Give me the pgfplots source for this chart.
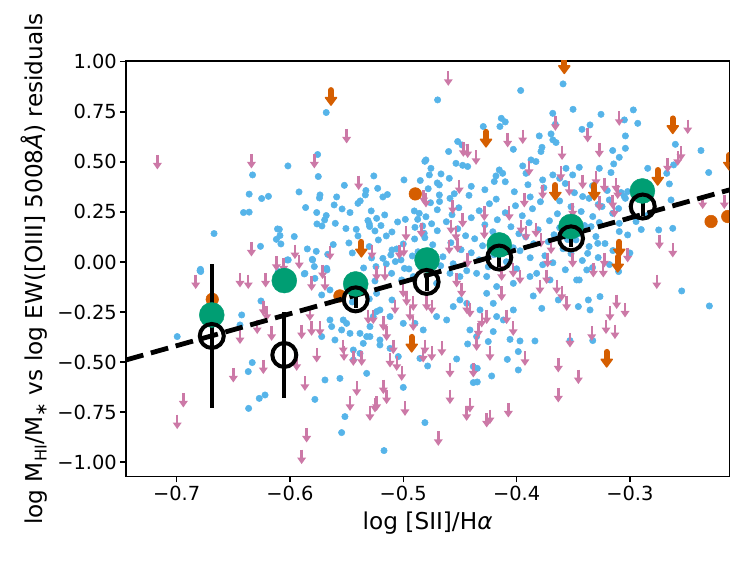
\documentclass[border=0pt]{standalone}
\usepackage{fontspec}
\setmainfont{DejaVu Sans}
\usepackage{pgfplots}
\pgfplotsset{compat=1.18}
\definecolor{cbblue}{HTML}{56B4E9}
\definecolor{cbpink}{HTML}{CC79A7}
\definecolor{cborange}{HTML}{D55E00}
\definecolor{cbgreen}{HTML}{009E73}
\pgfdeclareplotmark{parrow}{%
  \pgfsetlinewidth{2.4pt}\pgfsetbuttcap
  \pgfpathmoveto{\pgfqpoint{0pt}{7pt}}\pgfpathlineto{\pgfqpoint{0pt}{-2pt}}\pgfusepathqstroke
  \pgfpathmoveto{\pgfqpoint{-4.5pt}{-1pt}}\pgfpathlineto{\pgfqpoint{4.5pt}{-1pt}}\pgfpathlineto{\pgfqpoint{0pt}{-7.5pt}}\pgfpathclose\pgfusepathqfill
}
\pgfdeclareplotmark{oarrow}{%
  \pgfsetlinewidth{6pt}\pgfsetroundcap
  \pgfpathmoveto{\pgfqpoint{0pt}{6.5pt}}\pgfpathlineto{\pgfqpoint{0pt}{-2pt}}\pgfusepathqstroke
  \pgfsetlinewidth{1.5pt}\pgfsetroundjoin
  \pgfpathmoveto{\pgfqpoint{-5.5pt}{-1pt}}\pgfpathlineto{\pgfqpoint{5.5pt}{-1pt}}\pgfpathlineto{\pgfqpoint{0pt}{-8.5pt}}\pgfpathclose\pgfusepathqfillstroke
}
\begin{document}
\begin{tikzpicture}
\useasboundingbox (-126pt,-83.3pt) rectangle (621pt,476.7pt);
\begin{axis}[
  at={(0pt,0pt)}, anchor=south west,
  scale only axis, width=603.3pt, height=415.7pt,
  xmin=-0.7447, xmax=-0.2123, ymin=-1.0735, ymax=1.0045,
  clip marker paths=true,
  axis line style={black, line width=1.2pt},
  tick style={black, line width=1.2pt},
  major tick length=5.7pt, tick align=outside,
  xtick pos=left, ytick pos=left,
  xtick={-0.7,-0.6,-0.5,-0.4,-0.3},
  xticklabels={−0.7,−0.6,−0.5,−0.4,−0.3},
  ytick={-1,-0.75,-0.5,-0.25,0,0.25,0.5,0.75,1},
  yticklabels={−1.00,−0.75,−0.50,−0.25,0.00,0.25,0.50,0.75,1.00},
  tick label style={font=\fontsize{19.4}{23}\selectfont},
  xlabel={log [SII]/H\textit{α}},
  ylabel={log M\textsubscript{HI}/M\textsubscript{∗} vs log EW([OIII] 5008\textit{Å}) residuals},
  label style={font=\fontsize{23.2}{27}\selectfont},
  xlabel style={at={(axis description cs:0.5,-0.127)}, anchor=base},
  ylabel style={at={(axis description cs:-0.1376,0.5)}, rotate=0, anchor=base},
]
% blue detections
\addplot[only marks, mark=*, mark size=3.2pt, color=cbblue, mark options={line width=0.5pt}] table {
x y
-0.633 0.435
-0.636 0.339
-0.625 0.317
-0.619 0.328
-0.641 0.247
-0.636 0.249
-0.667 0.142
-0.626 0.078
-0.611 0.165
-0.612 0.113
-0.679 -0.037
-0.568 0.747
-0.5756 0.537
-0.6018 0.48
-0.575 0.427
-0.526 0.43
-0.552 0.383
-0.592 0.35
-0.5735 0.335
-0.574 0.32
-0.5588 0.325
-0.533 0.357
-0.5335 0.335
-0.5226 0.368
-0.518 0.325
-0.514 0.337
-0.4994 0.41
-0.485 0.407
-0.481 0.503
-0.5862 0.272
-0.561 0.285
-0.554 0.265
-0.547 0.247
-0.540 0.293
-0.538 0.305
-0.5764 0.247
-0.568 0.232
-0.5694 0.21
-0.5762 0.19
-0.5718 0.18
-0.56 0.193
-0.5283 0.255
-0.5235 0.218
-0.5164 0.235
-0.5312 0.207
-0.5297 0.177
-0.525 0.155
-0.5197 0.182
-0.515 0.13
-0.5506 0.167
-0.5415 0.163
-0.4982 0.213
-0.4903 0.255
-0.4859 0.243
-0.4873 0.213
-0.4897 0.173
-0.4829 0.18
-0.4815 0.143
-0.6094 0.163
-0.6088 0.132
-0.608 0.09
-0.5962 0.127
-0.5847 0.065
-0.5768 0.053
-0.5618 0.087
-0.5667 0.038
-0.58 0.01
-0.5676 -0.032
-0.6015 0.01
-0.53 0.077
-0.518 0.018
-0.511 0.035
-0.5058 0.065
-0.507 0.002
-0.502 0.01
-0.499 -0.032
-0.5241 -0.023
-0.359 0.89
-0.3964 0.857
-0.4697 0.81
-0.3502 0.763
-0.3681 0.743
-0.3658 0.688
-0.4135 0.718
-0.41 0.70
-0.4147 0.677
-0.4294 0.677
-0.4029 0.563
-0.452 0.602
-0.4482 0.585
-0.46 0.552
-0.38 0.63
-0.3776 0.573
-0.3785 0.552
-0.3696 0.64
-0.368 0.61
-0.3652 0.597
-0.4535 0.493
-0.4476 0.483
-0.4432 0.477
-0.48 0.51
-0.4756 0.468
-0.477 0.435
-0.4667 0.44
-0.4682 0.385
-0.4594 0.418
-0.4588 0.318
-0.4682 0.335
-0.3873 0.51
-0.3829 0.502
-0.3946 0.48
-0.3917 0.443
-0.4153 0.46
-0.4182 0.43
-0.4197 0.402
-0.4123 0.443
-0.377 0.41
-0.368 0.435
-0.362 0.418
-0.3564 0.468
-0.3505 0.435
-0.3255 0.738
-0.297 0.76
-0.2931 0.693
-0.3049 0.71
-0.304 0.63
-0.304 0.568
-0.3423 0.663
-0.3352 0.685
-0.2599 0.588
-0.2373 0.557
-0.2614 0.485
-0.2843 0.468
-0.2305 0.447
-0.3152 0.557
-0.3094 0.523
-0.3143 0.49
-0.3167 0.447
-0.327 0.468
-0.3447 0.473
-0.2675 0.443
-0.2652 0.39
-0.2637 0.31
-0.3417 0.327
-0.3246 0.277
-0.3182 0.31
-0.3078 0.347
-0.304 0.318
-0.302 0.352
-0.3152 0.243
-0.3094 0.193
-0.302 0.135
-0.2946 0.202
-0.3094 0.152
-0.3328 0.227
-0.3343 0.177
-0.3284 0.093
-0.3373 0.043
-0.2746 0.16
-0.2622 0.168
-0.3447 0.143
-0.3476 0.11
-0.6788 -0.048
-0.6995 -0.373
-0.6426 -0.265
-0.6256 -0.195
-0.6441 -0.315
-0.6333 -0.503
-0.6368 -0.548
-0.6271 -0.682
-0.622 -0.665
-0.6365 -0.732
-0.6044 -0.107
-0.6103 -0.048
-0.5868 -0.057
-0.578 -0.082
-0.572 -0.165
-0.5647 -0.14
-0.5647 -0.29
-0.572 -0.373
-0.5603 -0.39
-0.5544 -0.34
-0.553 -0.29
-0.5691 -0.59
-0.5559 -0.582
-0.5323 -0.557
-0.5441 -0.49
-0.5382 -0.457
-0.5441 -0.44
-0.578 -0.687
-0.5515 -0.773
-0.5544 -0.853
-0.5353 -0.407
-0.5323 -0.373
-0.5382 -0.357
-0.5294 -0.323
-0.5265 -0.273
-0.5235 -0.248
-0.5632 -0.323
-0.547 -0.357
-0.55 -0.307
-0.2543 -0.145
-0.2299 -0.22
-0.3264 -0.173
-0.3367 -0.19
-0.3352 -0.24
-0.3455 -0.223
-0.3447 -0.09
-0.3632 -0.19
-0.3328 -0.393
-0.3529 -0.393
-0.3778 -0.232
-0.3853 -0.17
-0.3838 -0.395
-0.397 -0.395
-0.4058 -0.387
-0.3985 -0.448
-0.4082 -0.487
-0.3985 -0.54
-0.422 -0.57
-0.4347 -0.532
-0.4382 -0.603
-0.4529 -0.485
-0.4809 -0.803
-0.517 -0.943
-0.5 -0.627
-0.4382 -0.523
-0.4347 -0.6
-0.5206 -0.415
-0.5117 -0.432
-0.5044 -0.473
-0.4853 -0.482
-0.4785 -0.52
-0.4432 -0.41
-0.4412 -0.34
-0.4353 -0.373
-0.425 -0.398
-0.4206 -0.348
-0.4176 -0.273
-0.5103 -0.057
-0.5014 -0.09
-0.4912 -0.073
-0.4706 -0.107
-0.4588 -0.057
-0.45 -0.073
-0.4353 -0.057
-0.4264 -0.073
-0.4176 -0.123
-0.4029 -0.107
-0.3882 -0.073
-0.3823 -0.057
-0.3705 -0.09
-0.347 -0.09
-0.3381 -0.04
-0.5206 -0.24
-0.5117 -0.273
-0.5 -0.307
-0.4897 -0.307
-0.4824 -0.34
-0.4706 -0.273
-0.4617 -0.29
-0.4559 -0.223
-0.45 -0.19
-0.444 -0.207
-0.4323 -0.24
-0.4264 -0.157
-0.4206 -0.207
-0.4117 -0.29
-0.4029 -0.24
-0.5235 -0.157
-0.5294 -0.373
-0.5206 -0.39
-0.47 0.395
-0.44 0.378
-0.41 0.401
-0.39 0.386
-0.357 0.392
-0.333 0.381
-0.478 0.366
-0.455 0.341
-0.428 0.361
-0.402 0.351
-0.376 0.371
-0.349 0.346
-0.32 0.357
-0.468 0.302
-0.442 0.333
-0.418 0.314
-0.388 0.325
-0.362 0.305
-0.336 0.318
-0.305 0.328
-0.476 0.296
-0.451 0.271
-0.424 0.291
-0.401 0.281
-0.379 0.301
-0.352 0.276
-0.328 0.287
-0.31 0.267
-0.47 0.261
-0.457 0.236
-0.433 0.256
-0.41 0.246
-0.386 0.266
-0.364 0.241
-0.343 0.252
-0.285 0.232
-0.48 0.226
-0.462 0.201
-0.44 0.221
-0.417 0.211
-0.395 0.231
-0.371 0.206
-0.355 0.217
-0.327 0.197
-0.475 0.191
-0.452 0.166
-0.428 0.186
-0.405 0.176
-0.389 0.196
-0.362 0.171
-0.34 0.182
-0.29 0.162
-0.47 0.156
-0.445 0.131
-0.421 0.151
-0.398 0.141
-0.381 0.161
-0.367 0.136
-0.35 0.147
-0.33 0.127
-0.481 0.121
-0.458 0.096
-0.437 0.116
-0.414 0.106
-0.392 0.126
-0.372 0.101
-0.355 0.112
-0.322 0.092
-0.474 0.086
-0.449 0.061
-0.43 0.081
-0.403 0.071
-0.385 0.091
-0.359 0.066
-0.336 0.077
-0.315 0.057
-0.487 0.051
-0.465 0.026
-0.44 0.046
-0.42 0.036
-0.397 0.056
-0.375 0.031
-0.352 0.042
-0.328 0.022
-0.3 0.045
-0.478 0.016
-0.456 -0.009
-0.433 0.011
-0.409 0.001
-0.388 0.021
-0.368 -0.004
-0.342 0.007
-0.318 -0.013
-0.467 -0.019
-0.444 -0.044
-0.425 -0.024
-0.4 -0.034
-0.377 -0.014
-0.357 -0.039
-0.333 -0.028
-0.31 -0.048
-0.545 0.045
-0.528 0.02
-0.51 0.06
-0.492 0.03
-0.535 -0.03
-0.515 -0.01
-0.5 0.09
-0.522 0.11
-0.548 0.095
-0.495 -0.035
-0.54 0.13
-0.51 0.15
-0.49 0.115
-0.505 0.2
-0.53 0.19
-0.535 -0.12
-0.545 -0.2
-0.53 -0.185
-0.51 -0.19
-0.525 -0.095
-0.5803 0.013
-0.5785 -0.023
-0.5673 -0.04
-0.6024 0.01
-0.6794 -0.043
-0.5874 -0.06
};
% pink upper limits
\addplot[only marks, mark=parrow, color=cbpink] table {
x y
-0.717 0.50
-0.634 0.505
-0.634 0.065
-0.612 -0.007
-0.55 0.63
-0.5785 0.505
-0.5394 0.397
-0.482 0.327
-0.4976 0.143
-0.4841 0.16
-0.5956 0.052
-0.5918 0.002
-0.5647 0.047
-0.5276 0.052
-0.5035 0.052
-0.4996 0.063
-0.6056 -0.015
-0.4603 0.918
-0.3658 0.693
-0.4079 0.61
-0.3946 0.627
-0.447 0.563
-0.4432 0.557
-0.4358 0.523
-0.3599 0.547
-0.389 0.468
-0.361 0.443
-0.3535 0.368
-0.4506 0.377
-0.4285 0.243
-0.4065 0.243
-0.3932 0.31
-0.377 0.352
-0.4564 0.277
-0.4579 0.177
-0.4535 0.143
-0.4476 0.21
-0.4594 0.077
-0.452 0.085
-0.3961 0.177
-0.3917 0.143
-0.3829 0.16
-0.3785 0.11
-0.3696 0.077
-0.3726 0.01
-0.3505 0.01
-0.3505 0.26
-0.4432 0.01
-0.4285 0.152
-0.48 0.31
-0.3094 0.718
-0.3373 0.635
-0.249 0.677
-0.2549 0.543
-0.2578 0.518
-0.2667 0.485
-0.327 0.56
-0.3417 0.402
-0.3299 0.418
-0.3226 0.385
-0.3123 0.385
-0.3108 0.352
-0.327 0.293
-0.3152 0.302
-0.3138 0.26
-0.274 0.102
-0.2622 0.06
-0.2358 0.302
-0.2167 0.302
-0.302 0.035
-0.3226 0.01
-0.6832 -0.098
-0.6441 -0.09
-0.6368 -0.098
-0.6215 -0.09
-0.6235 -0.232
-0.6206 -0.257
-0.6162 -0.357
-0.6441 -0.373
-0.6289 -0.323
-0.6235 -0.523
-0.65 -0.565
-0.6941 -0.69
-0.6995 -0.798
-0.5809 -0.107
-0.5691 -0.107
-0.5712 -0.048
-0.5824 -0.257
-0.5897 -0.348
-0.5809 -0.332
-0.5735 -0.332
-0.5764 -0.465
-0.5941 -0.507
-0.5523 -0.457
-0.5868 -0.607
-0.5411 -0.632
-0.547 -0.707
-0.5294 -0.757
-0.5235 -0.707
-0.5853 -0.865
-0.5897 -0.973
-0.553 -0.423
-0.5441 -0.482
-0.5367 -0.482
-0.5309 -0.273
-0.2763 -0.098
-0.3117 -0.198
-0.3043 -0.24
-0.3176 -0.257
-0.3211 -0.323
-0.3132 -0.348
-0.3337 -0.357
-0.3529 -0.39
-0.3455 -0.573
-0.3632 -0.515
-0.3632 -0.665
-0.3926 -0.482
-0.4073 -0.74
-0.4235 -0.457
-0.4382 -0.54
-0.4412 -0.715
-0.4441 -0.757
-0.4235 -0.773
-0.4264 -0.79
-0.4588 -0.673
-0.4588 -0.54
-0.4691 -0.882
-0.4985 -0.732
-0.5147 -0.673
-0.5176 -0.623
-0.525 -0.715
-0.5014 -0.557
-0.5058 -0.507
-0.5117 -0.49
-0.5088 -0.423
-0.5147 -0.357
-0.4809 -0.423
-0.4749 -0.457
-0.466 -0.432
-0.5235 -0.057
-0.5162 -0.057
-0.5073 -0.223
-0.5 -0.14
-0.497 -0.182
-0.4941 -0.257
-0.4912 -0.207
-0.4912 -0.307
-0.4794 -0.207
-0.4749 -0.223
-0.4529 -0.09
-0.4485 -0.14
-0.444 -0.223
-0.4412 -0.24
-0.4264 -0.273
-0.4308 -0.29
-0.4338 -0.34
-0.4132 -0.057
-0.4132 -0.157
-0.4088 -0.273
-0.403 -0.332
-0.4353 -0.407
-0.4824 -0.465
-0.3646 -0.123
-0.3558 -0.207
-0.3602 -0.157
-0.3735 -0.073
-0.3794 -0.123
-0.397 -0.073
-0.403 -0.04
-0.3323 -0.04
-0.3235 -0.04
-0.5176 -0.307
-0.5265 -0.273
};
% orange upper limits
\addplot[only marks, mark=oarrow, color=cborange] table {
x y
-0.5638 0.8266
-0.3579 0.985
-0.427 0.618
-0.3658 0.352
-0.537 0.068
-0.2622 0.685
-0.2755 0.427
-0.3314 0.352
-0.2123 0.502
-0.3094 0.068
-0.3108 -0.007
-0.3205 -0.482
-0.4926 -0.407
};
% orange detections
\addplot[only marks, mark=*, mark size=6.3pt, color=cborange, mark options={line width=0.5pt}] table {
x y
-0.4894 0.34
-0.2284 0.202
-0.2137 0.227
-0.5559 -0.17
-0.6686 -0.187
};
% fit line
\addplot[black, line width=4.8pt, dash pattern=on 18pt off 7.8pt, mark=none] table {
x y
-0.7447 -0.49
-0.2123 0.36
};
% error bars
\addplot[draw=none, mark=none, error bars/.cd, y dir=both, y explicit, error mark=none,
  error bar style={draw=black, line width=4pt, solid}] table[x=x, y=y, y error=e] {
x y e
-0.669 -0.37 0.36
-0.605 -0.465 0.215
-0.542 -0.187 0.045
-0.4794 -0.10 0.045
-0.4153 0.022 0.045
-0.352 0.118 0.045
-0.2887 0.277 0.045
};
% green binned medians
\addplot[only marks, mark=*, mark size=12.5pt, color=cbgreen, mark options={draw=none}] table {
x y
-0.669 -0.265
-0.605 -0.093
-0.542 -0.11
-0.479 0.01
-0.4153 0.085
-0.352 0.177
-0.289 0.355
};
% black open circles
\addplot[only marks, mark=o, mark size=12pt, color=black, mark options={line width=4pt}] table {
x y
-0.669 -0.37
-0.605 -0.465
-0.542 -0.187
-0.4794 -0.10
-0.4153 0.022
-0.352 0.118
-0.2887 0.277
};
\end{axis}
\end{tikzpicture}
\end{document}
